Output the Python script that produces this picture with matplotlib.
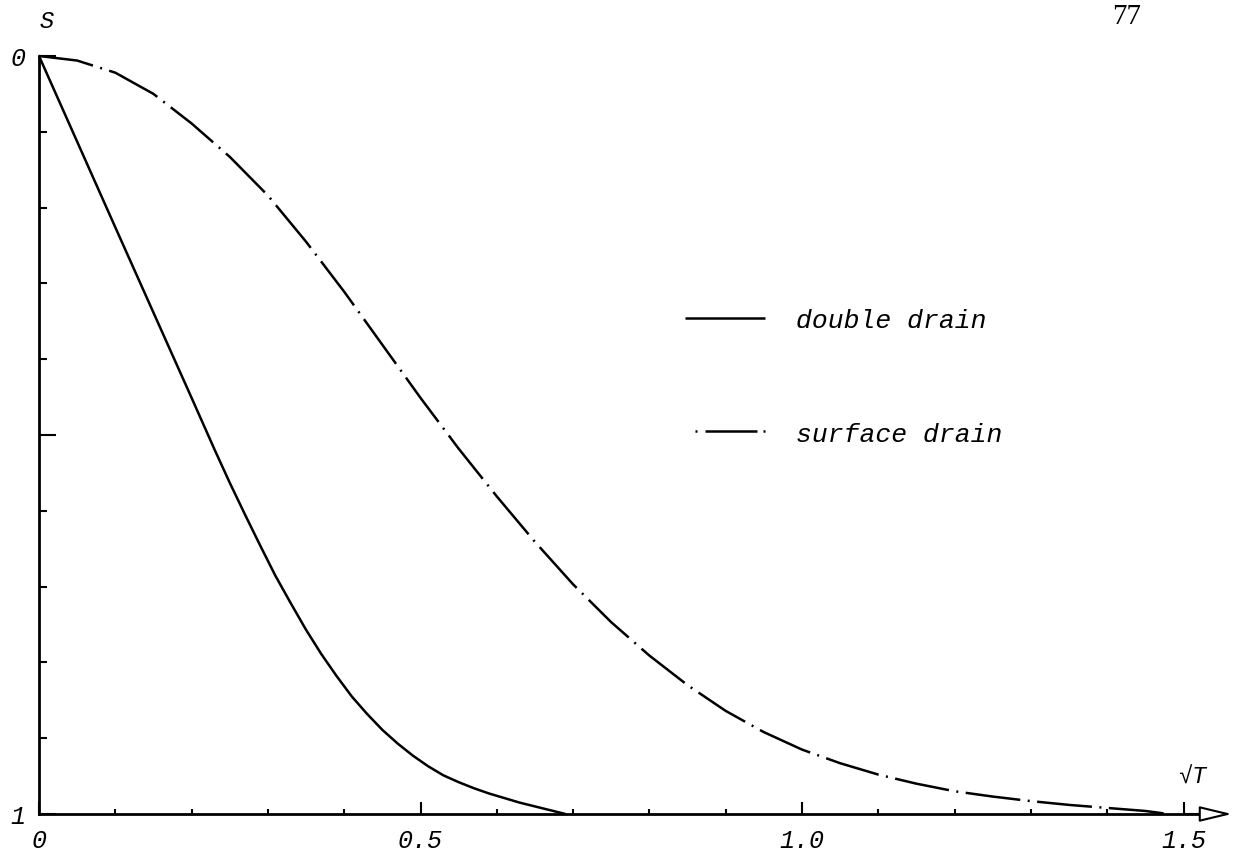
import numpy as np
import matplotlib

matplotlib.use("Agg")
import matplotlib.pyplot as plt
from matplotlib.lines import Line2D

# values (x = sqrt(T), S = settlement ratio)
double_x = [0.0, 0.10, 0.20, 0.23, 0.25, 0.27, 0.29, 0.31, 0.33, 0.35, 0.37, 0.39,
            0.41, 0.43, 0.45, 0.47, 0.49, 0.51, 0.53, 0.55, 0.57, 0.59, 0.61, 0.63,
            0.65, 0.67, 0.69]
double_s = [0.0, 0.226, 0.451, 0.519, 0.563, 0.605, 0.646, 0.686, 0.722, 0.757, 0.789,
            0.818, 0.845, 0.868, 0.889, 0.907, 0.923, 0.937, 0.949, 0.958, 0.966,
            0.973, 0.979, 0.985, 0.990, 0.995, 1.0]

surface_x = [0.0, 0.05, 0.10, 0.15, 0.20, 0.25, 0.30, 0.35, 0.40, 0.45, 0.50, 0.55,
             0.60, 0.65, 0.70, 0.75, 0.80, 0.85, 0.90, 0.95, 1.00, 1.05, 1.10, 1.15,
             1.20, 1.25, 1.30, 1.35, 1.40, 1.45, 1.48]
surface_s = [0.0, 0.006, 0.022, 0.050, 0.089, 0.133, 0.184, 0.245, 0.311, 0.381,
             0.451, 0.518, 0.581, 0.641, 0.697, 0.747, 0.791, 0.830, 0.864, 0.892,
             0.915, 0.933, 0.948, 0.960, 0.970, 0.977, 0.983, 0.988, 0.992, 0.996, 1.0]

x_major = [0.0, 0.5, 1.0, 1.5]
x_major_labels = ["0", "0.5", "1.0", "1.5"]
y_major = [0.0, 0.5, 1.0]
y_major_labels = ["0", "", "1"]

W, H = 1239, 854
MONO = ["Liberation Mono", "DejaVu Sans Mono"]

plt.rcParams["font.family"] = MONO
plt.rcParams["font.style"] = "italic"

fig = plt.figure(figsize=(W / 100, H / 100), dpi=100)
ax = fig.add_axes([0, 0, 1, 1])
ax.set_facecolor("none")

# map data to the page: x=0 at px 39, 0.1 per 76.3 px; S=0 at px 57, S=1 at px 815
x0, xs = 39, 763.0
y0, ys = 57, 758.0
ax.set_xlim(-x0 / xs, (W - x0) / xs)
ax.set_ylim((H - y0) / ys, -y0 / ys)

lw = 1.8
ax.plot(double_x, double_s, color="black", lw=lw, solid_capstyle="butt",
        solid_joinstyle="round")
ax.plot(surface_x, surface_s, color="black", lw=lw,
        linestyle=(0, (22, 3, 0.8, 3)), dash_capstyle="butt")

for side in ("top", "right"):
    ax.spines[side].set_visible(False)
ax.spines["left"].set_position(("data", 0))
ax.spines["left"].set_bounds(0, 1)
ax.spines["bottom"].set_position(("data", 1))
ax.spines["bottom"].set_bounds(0, 1.52)
for side in ("left", "bottom"):
    ax.spines[side].set_linewidth(2.0)

ax.set_xticks(x_major, labels=x_major_labels)
ax.set_xticks([v / 10 for v in range(1, 15) if v % 5], minor=True)
ax.set_yticks(y_major, labels=y_major_labels)
ax.set_yticks([v / 10 for v in range(1, 10) if v != 5], minor=True)
ax.tick_params(axis="x", which="major", direction="in", length=9, width=1.5,
               pad=10, labelsize=18)
ax.tick_params(axis="x", which="minor", direction="in", length=3.5, width=1.5)
ax.tick_params(axis="y", which="major", direction="in", length=12, width=1.5,
               pad=10, labelsize=18)
ax.tick_params(axis="y", which="minor", direction="in", length=6, width=1.5)

# arrow head on the x axis
ax.annotate("", xy=((1232 - x0) / xs, 1), xytext=(1.50, 1),
            arrowprops=dict(arrowstyle="-|>,head_length=1.0,head_width=0.24",
                            mutation_scale=20, fc="white", ec="black", lw=1.5,
                            shrinkA=0, shrinkB=0))

def px(x, y):
    return x / W, 1 - y / H

fig.text(*px(47, 22), "S", fontsize=17, ha="center", va="center")
fig.text(*px(1192, 777), "√T", fontsize=17, ha="center", va="center")
fig.text(*px(1127, 17), "77", fontsize=21, ha="center", va="center",
         family="Liberation Serif", style="normal")

handles = [
    Line2D([], [], color="black", lw=lw, solid_capstyle="butt"),
    Line2D([], [], color="black", lw=lw,
           linestyle=(28, (0.8, 3.2, 20.8, 2.4, 0.8, 4)), dash_capstyle="butt"),
]
fig.legend(handles, ["double drain", "surface drain"], loc="upper left",
           bbox_to_anchor=px(685, 309), frameon=False, fontsize=19,
           borderpad=0, borderaxespad=0, handlelength=3.05, handletextpad=1.15,
           labelspacing=3.4)

fig.savefig("out.png", dpi=100, facecolor="white")
